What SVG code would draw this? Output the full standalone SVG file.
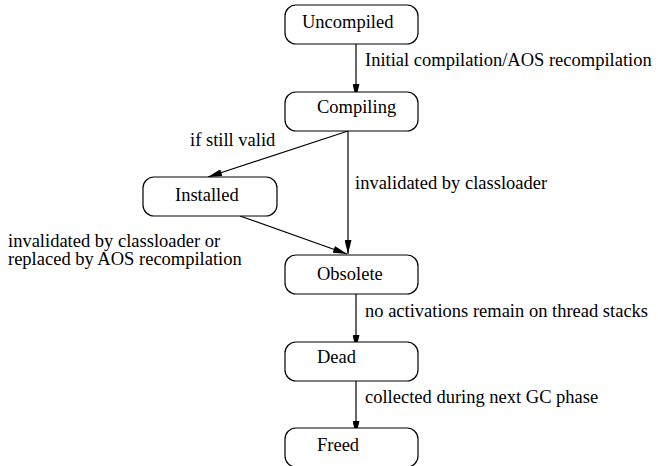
<svg xmlns="http://www.w3.org/2000/svg" width="658" height="466" viewBox="0 0 658 466">
<style>
.box{fill:#fff;stroke:#000;stroke-width:1.2}
text{font-family:'Liberation Serif','DejaVu Serif',serif;font-size:18.5px;fill:#000}
.e{stroke:#000;stroke-width:1.2;fill:none;marker-end:url(#ah)}
</style>
<defs>
<marker id="ah" markerWidth="14" markerHeight="7" refX="14" refY="3.5" orient="auto" markerUnits="userSpaceOnUse" viewBox="0 0 14 7">
<path d="M0,0 L14,3.5 L0,7 Z" fill="#000"/>
</marker>
</defs>
<rect width="658" height="466" fill="#fff"/>
<g id="connectors">
<line class="e" x1="356" y1="44" x2="356" y2="98"/>
<line class="e" x1="348" y1="131" x2="208" y2="177"/>
<line class="e" x1="348" y1="131" x2="348" y2="254"/>
<line class="e" x1="240" y1="216" x2="347" y2="254"/>
<line class="e" x1="356" y1="294" x2="356" y2="349"/>
<line class="e" x1="356" y1="381" x2="356" y2="435"/>
<text x="365" y="66">Initial compilation/AOS recompilation</text>
<text x="190" y="146">if still valid</text>
<text x="355" y="189">invalidated by classloader</text>
<text x="8" y="247">invalidated by classloader or</text>
<text x="8" y="265">replaced by AOS recompilation</text>
<text x="365" y="317">no activations remain on thread stacks</text>
<text x="365" y="403">collected during next GC phase</text>
</g>
<g id="uncompiled"><rect class="box" x="285" y="5" width="133" height="39" rx="11"/><text x="302" y="28">Uncompiled</text></g>
<g id="compiling"><rect class="box" x="285" y="92" width="133" height="39" rx="11"/><text x="317" y="113">Compiling</text></g>
<g id="installed"><rect class="box" x="143" y="177" width="134" height="39" rx="11"/><text x="175" y="201">Installed</text></g>
<g id="obsolete"><rect class="box" x="285" y="255" width="133" height="39" rx="11"/><text x="317" y="280">Obsolete</text></g>
<g id="dead"><rect class="box" x="285" y="342" width="133" height="39" rx="11"/><text x="317" y="363">Dead</text></g>
<g id="freed"><rect class="box" x="285" y="428" width="133" height="39" rx="11"/><text x="317" y="451">Freed</text></g>
</svg>
